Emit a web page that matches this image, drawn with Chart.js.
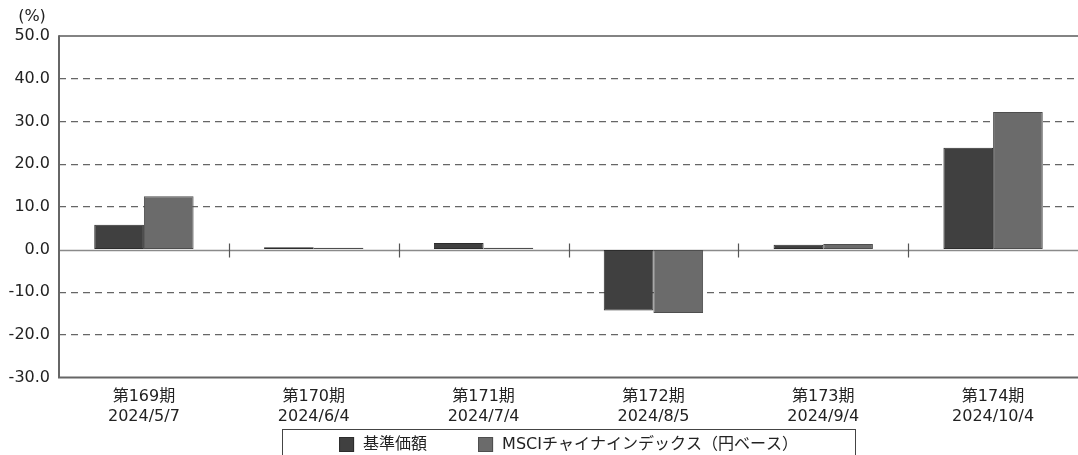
<!DOCTYPE html>
<html>
<head>
<meta charset="utf-8">
<script src="https://cdn.jsdelivr.net/npm/chart.js@4.4.1/dist/chart.umd.min.js"></script>
<style>
  html, body { margin: 0; padding: 0; background: #fff; }
  #wrap { width: 1078px; height: 455px; position: relative; }
</style>
</head>
<body>
<div id="wrap"><canvas id="c"></canvas></div>
<script>
// Period names and settlement dates
const periods = ['第169期', '第170期', '第171期', '第172期', '第173期', '第174期'];
const dates = ['2024/5/7', '2024/6/4', '2024/7/4', '2024/8/5', '2024/9/4', '2024/10/4'];
// Period returns (%)
const fundReturns = [5.8, 0.5, 1.5, -14.3, 1.1, 23.8];
const indexReturns = [12.5, 0.4, 0.4, -14.9, 1.3, 32.2];
const seriesNames = ['基準価額', 'MSCIチャイナインデックス（円ベース）'];
// Value axis
const yMin = -30, yMax = 50, yStep = 10;
const unitLabel = '(%)';

const FONT = '"DejaVu Sans", "Noto Sans CJK JP", sans-serif';
const TEXT = '#222';
const colors = ['#404040', '#6b6b6b'];
const borders = ['#2c2c2c', '#4e4e4e'];

// Solid frame lines, zero line with category crosses, unit label and boxed legend
const framePlugin = {
  id: 'frame',
  beforeDatasetsDraw(chart) {
    const { ctx, chartArea: a, scales: { x, y } } = chart;
    ctx.save();
    // top line
    ctx.strokeStyle = '#5a5a5a';
    ctx.lineWidth = 1.5;
    ctx.beginPath();
    ctx.moveTo(a.left, y.getPixelForValue(yMax));
    ctx.lineTo(a.right, y.getPixelForValue(yMax));
    ctx.stroke();
    // zero line
    const y0 = Math.round(y.getPixelForValue(0)) + 0.5;
    ctx.strokeStyle = '#8a8a8a';
    ctx.lineWidth = 1.5;
    ctx.beginPath();
    ctx.moveTo(a.left, y0);
    ctx.lineTo(a.right, y0);
    ctx.stroke();
    // crosses at category boundaries
    ctx.strokeStyle = '#555';
    ctx.lineWidth = 1.2;
    for (let i = 1; i < periods.length; i++) {
      const xb = Math.round((x.getPixelForValue(i - 1) + x.getPixelForValue(i)) / 2) + 0.5;
      ctx.beginPath();
      ctx.moveTo(xb, y0 - 7);
      ctx.lineTo(xb, y0 + 7);
      ctx.stroke();
    }
    ctx.restore();
  },
  afterDraw(chart) {
    const { ctx, chartArea: a, scales: { y } } = chart;
    ctx.save();
    // left and bottom axes
    ctx.strokeStyle = '#666';
    ctx.lineWidth = 2;
    ctx.beginPath();
    ctx.moveTo(a.left, y.getPixelForValue(yMax) - 0.75);
    ctx.lineTo(a.left, y.getPixelForValue(yMin));
    ctx.lineTo(a.right, y.getPixelForValue(yMin));
    ctx.stroke();

    // unit label
    ctx.fillStyle = TEXT;
    ctx.font = '16px ' + FONT;
    ctx.textAlign = 'center';
    ctx.textBaseline = 'middle';
    ctx.fillText(unitLabel, 32, 17);

    // legend
    ctx.font = '16px ' + FONT;
    const mk = 15, mkGap = 9, itemGap = 51;
    const widths = seriesNames.map(n => ctx.measureText(n).width);
    let total = 0;
    widths.forEach((w, i) => { total += mk + mkGap + w + (i ? itemGap : 0); });
    const cx = (a.left + a.right) / 2;
    let xs = cx - total / 2;
    const boxTop = 429.5;
    ctx.strokeStyle = '#444';
    ctx.lineWidth = 1;
    ctx.strokeRect(Math.round(xs - 57) + 0.5, boxTop, Math.round(total + 114), 40);
    const cy = 444;
    ctx.textAlign = 'left';
    seriesNames.forEach((n, i) => {
      ctx.fillStyle = colors[i];
      ctx.fillRect(xs, cy - 7, mk, mk);
      ctx.strokeStyle = borders[i];
      ctx.strokeRect(xs + 0.5, cy - 6.5, mk - 1, mk - 1);
      ctx.fillStyle = TEXT;
      ctx.fillText(n, xs + mk + mkGap, cy + 1);
      xs += mk + mkGap + widths[i] + itemGap;
    });
    ctx.restore();
  }
};

new Chart(document.getElementById('c'), {
  type: 'bar',
  data: {
    labels: periods.map((p, i) => [p, dates[i]]),
    datasets: [
      { label: seriesNames[0], data: fundReturns, backgroundColor: colors[0], borderColor: borders[0] },
      { label: seriesNames[1], data: indexReturns, backgroundColor: colors[1], borderColor: borders[1] }
    ].map(d => Object.assign(d, { borderWidth: 1, borderSkipped: false, categoryPercentage: 0.585, barPercentage: 1 }))
  },
  options: {
    responsive: true,
    maintainAspectRatio: false,
    devicePixelRatio: 1,
    animation: false,
    layout: { padding: { top: 36, bottom: 19, left: 0, right: 0 } },
    plugins: { legend: { display: false }, tooltip: { enabled: false } },
    scales: {
      x: {
        grid: { display: false, drawTicks: false },
        border: { display: false },
        ticks: { color: TEXT, font: { family: FONT, size: 16, lineHeight: 1.2 }, padding: 10, maxRotation: 0, autoSkip: false }
      },
      y: {
        min: yMin,
        max: yMax,
        afterFit(scale) { scale.width = 59; },
        grid: {
          drawTicks: false,
          lineWidth: 1.2,
          color: ctx => (ctx.tick && (ctx.tick.value === yMax || ctx.tick.value === yMin || ctx.tick.value === 0)) ? 'rgba(0,0,0,0)' : '#666'
        },
        border: { display: false, dash: [7, 5] },
        ticks: {
          stepSize: yStep,
          color: TEXT,
          padding: 9,
          font: { family: FONT, size: 16 },
          callback: v => v.toFixed(1)
        }
      }
    }
  },
  plugins: [framePlugin]
});
</script>
</body>
</html>
